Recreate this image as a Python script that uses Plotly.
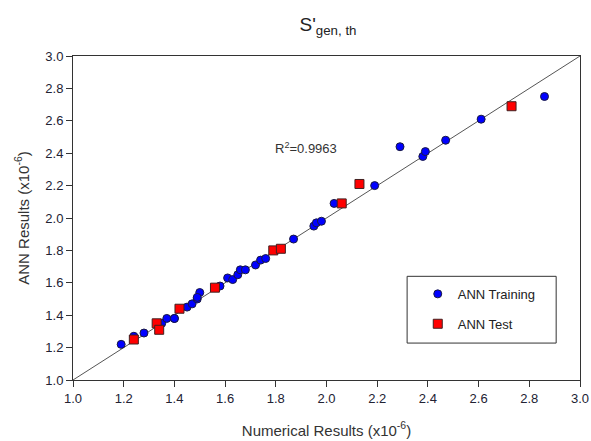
import plotly.graph_objects as go

# ANN Training data (x10^-6)
train_x = [1.19, 1.24, 1.28, 1.35, 1.37, 1.40, 1.40, 1.45, 1.47, 1.49, 1.50, 1.49,
           1.58, 1.61, 1.63, 1.65, 1.66, 1.68, 1.72, 1.74, 1.76, 1.87, 1.95, 1.96,
           1.98, 2.03, 2.19, 2.29, 2.38, 2.39, 2.47, 2.61, 2.86]
train_y = [1.22, 1.27, 1.29, 1.35, 1.38, 1.38, 1.38, 1.45, 1.47, 1.50, 1.54, 1.51,
           1.58, 1.63, 1.62, 1.65, 1.68, 1.68, 1.71, 1.74, 1.75, 1.87, 1.95, 1.97,
           1.98, 2.09, 2.20, 2.44, 2.38, 2.41, 2.48, 2.61, 2.75]

# ANN Test data (x10^-6)
test_x = [1.24, 1.33, 1.34, 1.42, 1.56, 1.79, 1.82, 2.06, 2.13, 2.73]
test_y = [1.25, 1.35, 1.31, 1.44, 1.57, 1.80, 1.81, 2.09, 2.21, 2.69]

line_x = [1.0, 3.0]
line_y = [1.0, 3.0]

tick_vals = [1.0, 1.2, 1.4, 1.6, 1.8, 2.0, 2.2, 2.4, 2.6, 2.8, 3.0]
tick_text = ["%.1f" % v for v in tick_vals]

r2_text = "R<sup>2</sup>=0.9963"

fig = go.Figure()
fig.add_trace(go.Scatter(x=line_x, y=line_y, mode="lines",
                         line=dict(color="#555555", width=1), showlegend=False,
                         hoverinfo="skip"))
fig.add_trace(go.Scatter(x=train_x, y=train_y, mode="markers", name="ANN Training",
                         legendgroup="a",
                         marker=dict(symbol="circle", size=8, color="#0000ff",
                                     line=dict(color="#1a1a40", width=1))))
fig.add_trace(go.Scatter(x=test_x, y=test_y, mode="markers", name="ANN Test",
                         legendgroup="b",
                         marker=dict(symbol="square", size=9, color="#ff0000",
                                     line=dict(color="#402020", width=1))))

axis_common = dict(range=[1.0, 3.0], tickvals=tick_vals, ticktext=tick_text,
                   showgrid=False, zeroline=False, showline=True, linecolor="#333333",
                   linewidth=1, mirror=True, ticks="outside", ticklen=6,
                   tickcolor="#333333", automargin=False,
                   tickfont=dict(family="Liberation Sans, Arial", size=13, color="#222233"))

fig.update_layout(
    width=591, height=441,
    margin=dict(l=73, r=11, t=56, b=61, autoexpand=False),
    paper_bgcolor="white", plot_bgcolor="white",
    title=dict(text="S'<sub>gen, th</sub>", x=0.555, xanchor="center", y=0.945,
               yanchor="middle", automargin=False,
               font=dict(family="Liberation Sans, Arial", size=19, color="#222222")),
    xaxis=dict(axis_common, title=dict(text="Numerical Results (x10<sup>-6</sup>)",
                                        standoff=20,
                                        font=dict(family="Liberation Sans, Arial", size=15,
                                                  color="#333333"))),
    yaxis=dict(axis_common, title=dict(text="ANN Results (x10<sup>-6</sup>)",
                                        standoff=12,
                                        font=dict(family="Liberation Sans, Arial", size=15,
                                                  color="#333333"))),
    legend=dict(x=0.68, y=0.312, xanchor="left", yanchor="top",
                bgcolor="rgba(0,0,0,0)", borderwidth=0,
                tracegroupgap=10, traceorder="grouped",
                font=dict(family="Liberation Sans, Arial", size=13, color="#222222")),
    shapes=[dict(type="rect", xref="paper", yref="paper", x0=0.659, x1=0.953,
                 y0=0.114, y1=0.32, line=dict(color="#333333", width=1))],
    annotations=[dict(x=1.92, y=2.43, xref="x", yref="y", text=r2_text,
                      showarrow=False,
                      font=dict(family="Liberation Sans, Arial", size=13, color="#333333"))],
)

fig.write_html("out.html")
